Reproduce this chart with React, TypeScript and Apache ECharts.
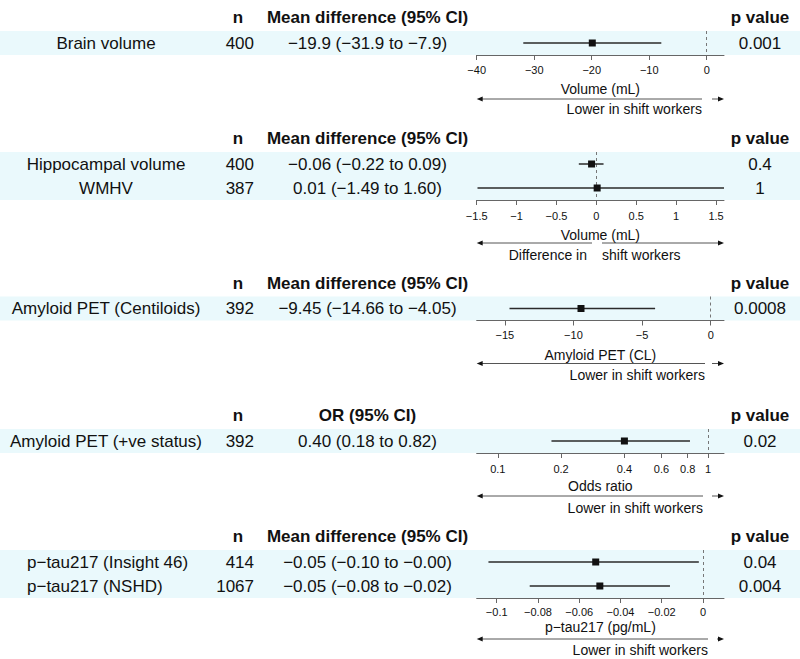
import React, { useEffect, useRef } from "react";
import * as echarts from "echarts";

const FONT = "'Liberation Sans', Arial, Helvetica, sans-serif";
const NARROW = "'Liberation Sans Narrow', 'Liberation Sans', Arial, sans-serif";

// ---- Brain volume ----
const brainLabels = ["Brain volume"];
const brainN = ["400"];
const brainEst = [-19.9];
const brainLow = [-31.9];
const brainHigh = [-7.9];
const brainP = ["0.001"];
const brainTicks = [-40, -30, -20, -10, 0];

// ---- Hippocampal volume / WMHV ----
const volLabels = ["Hippocampal volume", "WMHV"];
const volN = ["400", "387"];
const volEst = [-0.06, 0.01];
const volLow = [-0.22, -1.49];
const volHigh = [0.09, 1.6];
const volP = ["0.4", "1"];
const volTicks = [-1.5, -1, -0.5, 0, 0.5, 1, 1.5];

// ---- Amyloid PET (Centiloids) ----
const clLabels = ["Amyloid PET (Centiloids)"];
const clN = ["392"];
const clEst = [-9.45];
const clLow = [-14.66];
const clHigh = [-4.05];
const clP = ["0.0008"];
const clTicks = [-15, -10, -5, 0];

// ---- Amyloid PET positivity (odds ratio) ----
const orLabels = ["Amyloid PET (+ve status)"];
const orN = ["392"];
const orEst = [0.4];
const orLow = [0.18];
const orHigh = [0.82];
const orP = ["0.02"];
const orTicks = [0.1, 0.2, 0.4, 0.6, 0.8, 1];

// ---- p-tau217 ----
const tauLabels = ["p\u2212tau217 (Insight 46)", "p\u2212tau217 (NSHD)"];
const tauN = ["414", "1067"];
const tauEst = [-0.052, -0.05];
const tauLow = [-0.104, -0.084];
const tauHigh = [-0.002, -0.016];
const tauP = ["0.04", "0.004"];
const tauTicks = [-0.1, -0.08, -0.06, -0.04, -0.02, 0];

const ROW_H = 24;
const PLOT_LEFT = 476.7;
const PLOT_W = 247.3;
const PLOT_RIGHT = PLOT_LEFT + PLOT_W;
const BAND = "#eaf9fc";
const TEXT_SIZE = 17;

const COL_LABEL = 106;
const COL_N_HEAD = 238;
const COL_N = 254;
const COL_EST = 367.5;
const COL_P = 760;

type Panel = {
  labels: string[];
  n: string[];
  est: number[];
  low: number[];
  high: number[];
  p: string[];
  ticks: number[];
  decimals: number;
  header: string;
  axisTitle: string;
  min: number;
  max: number;
  log: boolean;
  ref: number;
  bandTop: number;
  labelLeft: boolean;
  arrowSplit: [number, number];
  arrowLeftText: string;
  arrowRightText: string;
  tickOff: number;
  titleOff: number;
  arrowOff: number;
  textOff: number;
};

const panels: Panel[] = [
  {
    labels: brainLabels, n: brainN, est: brainEst, low: brainLow, high: brainHigh, p: brainP,
    ticks: brainTicks, decimals: 1, header: "Mean difference (95% CI)", axisTitle: "Volume (mL)",
    min: -40, max: 3, log: false, ref: 0, bandTop: 31, labelLeft: false,
    arrowSplit: [702, 712], arrowLeftText: "Lower in shift workers", arrowRightText: "",
    tickOff: 15, titleOff: 34, arrowOff: 44, textOff: 54,
  },
  {
    labels: volLabels, n: volN, est: volEst, low: volLow, high: volHigh, p: volP,
    ticks: volTicks, decimals: 2, header: "Mean difference (95% CI)", axisTitle: "Volume (mL)",
    min: -1.5, max: 1.6, log: false, ref: 0, bandTop: 152, labelLeft: false,
    arrowSplit: [592, 602], arrowLeftText: "Difference in", arrowRightText: "shift workers",
    tickOff: 16, titleOff: 35, arrowOff: 43, textOff: 55,
  },
  {
    labels: clLabels, n: clN, est: clEst, low: clLow, high: clHigh, p: clP,
    ticks: clTicks, decimals: 2, header: "Mean difference (95% CI)", axisTitle: "Amyloid PET (CL)",
    min: -17.05, max: 0.97, log: false, ref: 0, bandTop: 296.5, labelLeft: false,
    arrowSplit: [705, 712], arrowLeftText: "Lower in shift workers", arrowRightText: "",
    tickOff: 14.5, titleOff: 34, arrowOff: 43, textOff: 54.5,
  },
  {
    labels: orLabels, n: orN, est: orEst, low: orLow, high: orHigh, p: orP,
    ticks: orTicks, decimals: 2, header: "OR (95% CI)", axisTitle: "Odds ratio",
    min: 0.0794, max: 1.19, log: true, ref: 1, bandTop: 429, labelLeft: false,
    arrowSplit: [703, 712], arrowLeftText: "Lower in shift workers", arrowRightText: "",
    tickOff: 16, titleOff: 33, arrowOff: 43, textOff: 55,
  },
  {
    labels: tauLabels, n: tauN, est: tauEst, low: tauLow, high: tauHigh, p: tauP,
    ticks: tauTicks, decimals: 2, header: "Mean difference (95% CI)", axisTitle: "p\u2212tau217 (pg/mL)",
    min: -0.1097, max: 0.0102, log: false, ref: 0, bandTop: 550, labelLeft: true,
    arrowSplit: [708, 717], arrowLeftText: "Lower in shift workers", arrowRightText: "",
    tickOff: 14, titleOff: 29, arrowOff: 41, textOff: 52,
  },
];

const minus = (s: string) => s.replace(/-/g, "\u2212");
const fmt = (v: number, d: number) => minus(v.toFixed(d));
const fmtTick = (v: number) => minus(String(Number(v.toFixed(4))));

function buildOption() {
  const grids: any[] = [];
  const xAxes: any[] = [];
  const yAxes: any[] = [];
  const series: any[] = [];
  const graphic: any[] = [];

  const text = (x: number, y: number, t: string, align: string, opts: any = {}) => ({
    type: "text",
    x,
    y,
    z: 10,
    style: {
      text: t,
      fontFamily: FONT,
      fontSize: TEXT_SIZE,
      fill: "#111",
      align,
      verticalAlign: "middle",
      ...opts,
    },
  });

  panels.forEach((pn, i) => {
    const rows = pn.labels.length;
    const axisY = pn.bandTop + rows * ROW_H;
    const t = (v: number) => (pn.log ? Math.log10(v) : v);
    const tickVals = pn.ticks.map(t);

    grids.push({ left: PLOT_LEFT, width: PLOT_W, top: pn.bandTop, height: rows * ROW_H });

    xAxes.push({
      type: "value",
      gridIndex: i,
      min: t(pn.min),
      max: t(pn.max),
      splitLine: { show: false },
      axisLine: { show: true, lineStyle: { color: "#666", width: 1 } },
      axisTick: {
        show: true,
        length: 5,
        customValues: tickVals,
        lineStyle: { color: "#666", width: 1 },
      },
      axisLabel: {
        customValues: tickVals,
        margin: pn.tickOff - 6,
        fontSize: 11,
        fontFamily: NARROW,
        color: "#111",
        formatter: (v: number) =>
          pn.log ? String(Number(Math.pow(10, v).toPrecision(2))) : fmtTick(v),
      },
      name: pn.axisTitle,
      nameLocation: "middle",
      nameGap: pn.titleOff - 7,
      nameTextStyle: { fontSize: 14, fontFamily: FONT, color: "#111" },
    });

    yAxes.push({
      type: "category",
      gridIndex: i,
      data: pn.labels,
      inverse: true,
      show: false,
    });

    series.push({
      type: "custom",
      name: pn.axisTitle,
      xAxisIndex: i,
      yAxisIndex: i,
      clip: false,
      z: 5,
      data: pn.labels.map((_, k) => [t(pn.low[k]), t(pn.high[k]), t(pn.est[k]), k]),
      encode: { x: [0, 1, 2], y: 3 },
      renderItem: (_params: any, api: any) => {
        const row = api.value(3);
        const a = api.coord([api.value(0), row]);
        const b = api.coord([api.value(1), row]);
        const c = api.coord([api.value(2), row]);
        const s = 7;
        return {
          type: "group",
          children: [
            {
              type: "line",
              shape: { x1: a[0], y1: a[1], x2: b[0], y2: b[1] },
              style: { stroke: "#2a2a2a", lineWidth: 1.5 },
            },
            {
              type: "rect",
              shape: { x: c[0] - s / 2, y: c[1] - s / 2, width: s, height: s },
              style: { fill: "#111" },
            },
          ],
        };
      },
    });

    // reference line at no effect
    series.push({
      type: "line",
      xAxisIndex: i,
      yAxisIndex: i,
      data: [],
      silent: true,
      z: 3,
      markLine: {
        silent: true,
        symbol: "none",
        label: { show: false },
        lineStyle: { type: [3, 3], color: "#777", width: 1 },
        data: [{ xAxis: t(pn.ref) }],
      },
    });

    // row bands
    graphic.push({
      type: "rect",
      z: -1,
      shape: { x: 0, y: pn.bandTop, width: 800, height: rows * ROW_H },
      style: { fill: BAND },
    });

    // column headers
    const headY = pn.bandTop - 13.5;
    const bold = { fontWeight: "bold" };
    graphic.push(text(COL_N_HEAD, headY, "n", "center", bold));
    graphic.push(text(COL_EST, headY, pn.header, "center", bold));
    graphic.push(text(COL_P, headY, "p value", "center", bold));

    // table rows
    pn.labels.forEach((lab, k) => {
      const y = pn.bandTop + ROW_H / 2 + k * ROW_H;
      graphic.push(
        pn.labelLeft ? text(27, y, lab, "left") : text(COL_LABEL, y, lab, "center")
      );
      graphic.push(text(COL_N, y, pn.n[k], "right"));
      graphic.push(
        text(
          COL_EST,
          y,
          `${fmt(pn.est[k], pn.decimals)} (${fmt(pn.low[k], pn.decimals)} to ${fmt(
            pn.high[k],
            pn.decimals
          )})`,
          "center"
        )
      );
      graphic.push(text(COL_P, y, pn.p[k], "center"));
    });

    // direction arrows
    const ay = axisY + pn.arrowOff;
    const [l1, r0] = pn.arrowSplit;
    graphic.push({
      type: "line",
      shape: { x1: PLOT_LEFT + 4, y1: ay, x2: l1, y2: ay },
      style: { stroke: "#555", lineWidth: 1 },
    });
    graphic.push({
      type: "line",
      shape: { x1: r0, y1: ay, x2: PLOT_RIGHT - 4, y2: ay },
      style: { stroke: "#555", lineWidth: 1 },
    });
    graphic.push({
      type: "polygon",
      shape: {
        points: [
          [PLOT_LEFT, ay],
          [PLOT_LEFT + 6, ay - 2.5],
          [PLOT_LEFT + 6, ay + 2.5],
        ],
      },
      style: { fill: "#111" },
    });
    graphic.push({
      type: "polygon",
      shape: {
        points: [
          [PLOT_RIGHT, ay],
          [PLOT_RIGHT - 6, ay - 2.5],
          [PLOT_RIGHT - 6, ay + 2.5],
        ],
      },
      style: { fill: "#111" },
    });
    const ty = axisY + pn.textOff;
    if (pn.arrowLeftText)
      graphic.push(text(l1 - (pn.arrowRightText ? 5 : 0), ty, pn.arrowLeftText, "right", { fontSize: 14 }));
    if (pn.arrowRightText)
      graphic.push(text(r0, ty, pn.arrowRightText, "left", { fontSize: 14 }));
  });

  return {
    animation: false,
    backgroundColor: "#ffffff",
    grid: grids,
    xAxis: xAxes,
    yAxis: yAxes,
    series,
    graphic,
  };
}

export default function App() {
  const ref = useRef<HTMLDivElement>(null);

  useEffect(() => {
    document.body.style.margin = "0";
    if (!ref.current) return;
    const chart = echarts.init(ref.current, undefined, { renderer: "svg" });
    chart.setOption(buildOption() as any);
    return () => chart.dispose();
  }, []);

  return <div ref={ref} style={{ width: 800, height: 659 }} />;
}
